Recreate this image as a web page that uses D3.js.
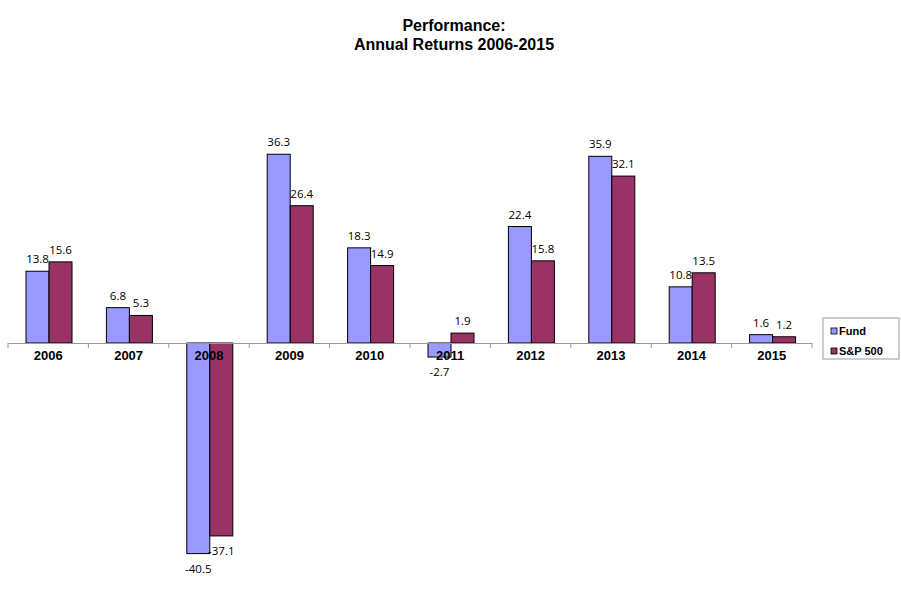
<!DOCTYPE html>
<html>
<head>
<meta charset="utf-8">
<script src="https://cdn.jsdelivr.net/npm/d3@7"></script>
<style>
  body { margin: 0; background: #fff; }
  svg { display: block; }
</style>
</head>
<body>
<div id="main-diagram"></div>
<script>
const years = ['2006', '2007', '2008', '2009', '2010', '2011', '2012', '2013', '2014', '2015']
const fund = [13.8, 6.8, -40.5, 36.3, 18.3, -2.7, 22.4, 35.9, 10.8, 1.6]
const sp500 = [15.6, 5.3, -37.1, 26.4, 14.9, 1.9, 15.8, 32.1, 13.5, 1.2]
const seriesNames = ['Fund', 'S&P 500']
const colors = ['#9999ff', '#993366']
const titleLines = ['Performance:', 'Annual Returns 2006-2015']

const width = 901
const height = 613

const svg = d3.select('#main-diagram')
    .append('svg')
    .attr('width', width)
    .attr('height', height)

// title
svg.append('text')
    .attr('x', 454)
    .attr('y', 31)
    .attr('text-anchor', 'middle')
    .style('font', 'bold 16px "Liberation Sans", Arial, sans-serif')
    .selectAll('tspan')
    .data(titleLines)
    .enter()
    .append('tspan')
    .attr('x', 454)
    .attr('dy', (d, i) => i === 0 ? 0 : 19)
    .text(d => d)

const x = d3.scaleBand()
    .domain(years)
    .range([8, 812])
    .paddingInner(0)

const x1 = d3.scaleBand()
    .domain(seriesNames)
    .range([18, 64])

const y = d3.scaleLinear()
    .domain([-50, 50])
    .range([603, 83])

const rows = years.map((yr, i) => ({ year: yr, values: [fund[i], sp500[i]] }))

const groups = svg.selectAll('g.year')
    .data(rows)
    .enter()
    .append('g')
    .attr('class', 'year')
    .attr('transform', d => `translate(${x(d.year)},0)`)

const bars = groups.selectAll('g.bar')
    .data(d => d.values.map((v, j) => ({ name: seriesNames[j], value: v, color: colors[j] })))
    .enter()
    .append('g')

bars.append('rect')
    .attr('x', d => x1(d.name))
    .attr('width', x1.bandwidth())
    .attr('y', d => y(Math.max(0, d.value)))
    .attr('height', d => Math.abs(y(d.value) - y(0)))
    .attr('fill', d => d.color)
    .attr('stroke', '#000')
    .attr('stroke-width', 1)

bars.append('text')
    .attr('x', d => x1(d.name) + x1.bandwidth() / 2)
    .attr('y', d => d.value >= 0 ? y(d.value) - 8 : y(d.value) + 19)
    .attr('text-anchor', 'middle')
    .style('font', '11.5px "Open Sans", sans-serif')
    .text(d => d.value)

// x axis
const axis = svg.append('g')
    .attr('transform', `translate(0,${y(0)})`)
    .call(d3.axisBottom(x).tickSize(0).tickSizeOuter(0).tickPadding(8))

axis.select('.domain').attr('stroke', '#999')
axis.selectAll('text')
    .style('font', 'bold 13px "Liberation Sans", Arial, sans-serif')
    .attr('fill', '#000')

axis.selectAll('line.sep')
    .data(years.concat(['end']))
    .enter()
    .append('line')
    .attr('class', 'sep')
    .attr('x1', (d, i) => 8 + i * x.bandwidth())
    .attr('x2', (d, i) => 8 + i * x.bandwidth())
    .attr('y1', 0)
    .attr('y2', 5)
    .attr('stroke', '#999')

// legend
const legend = svg.append('g').attr('transform', 'translate(823,318)')
legend.append('rect')
    .attr('width', 76)
    .attr('height', 41)
    .attr('fill', '#fff')
    .attr('stroke', '#999')

const items = legend.selectAll('g.item')
    .data(seriesNames)
    .enter()
    .append('g')
    .attr('transform', (d, i) => `translate(8,${10 + i * 20})`)

items.append('rect')
    .attr('width', 6)
    .attr('height', 6)
    .attr('fill', (d, i) => colors[i])
    .attr('stroke', '#000')
    .attr('stroke-width', 0.8)

items.append('text')
    .attr('x', 8)
    .attr('y', 7)
    .style('font', 'bold 11px "Liberation Sans", Arial, sans-serif')
    .text(d => d)
</script>
</body>
</html>
